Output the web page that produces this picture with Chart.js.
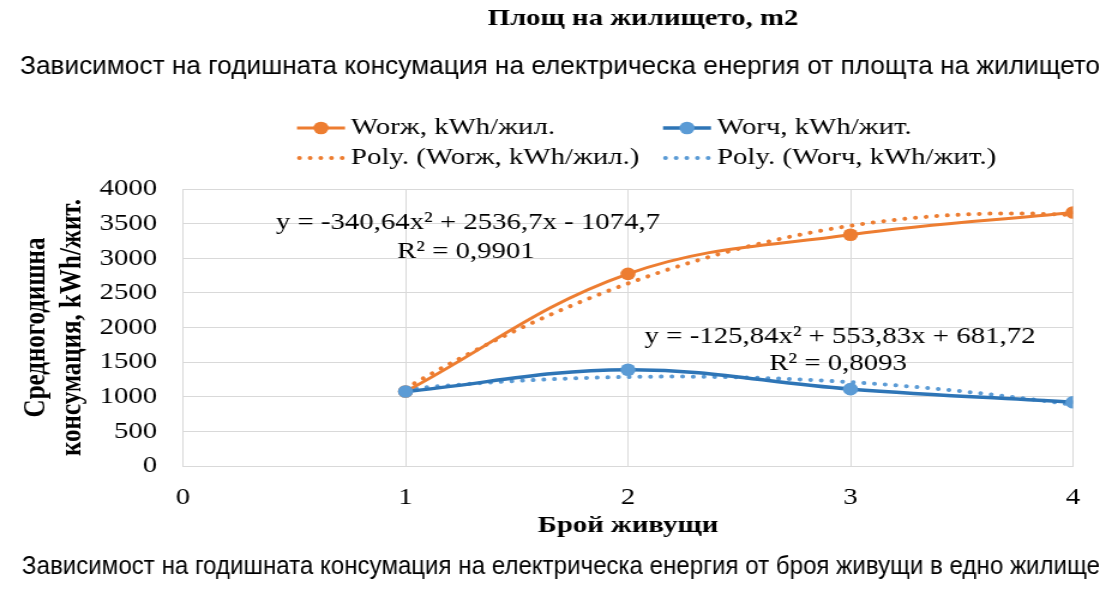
<!DOCTYPE html>
<html lang="bg">
<head>
<meta charset="utf-8">
<title>Годишна консумация на електрическа енергия</title>
<script src="https://cdn.jsdelivr.net/npm/chart.js@4/dist/chart.umd.min.js"></script>
<style>
  html, body { margin: 0; padding: 0; background: #fff; overflow: hidden; }
  #wrap { width: 1112px; height: 589px; position: relative; overflow: hidden; }
  /* the chart is laid out on a narrower canvas and widened horizontally */
  #chart { display: block; transform-origin: 0 0; }
</style>
</head>
<body>
<div id="wrap"><canvas id="chart"></canvas></div>
<script>
// Number of residents per dwelling
const residents = [1, 2, 3, 4];
// Average annual consumption, kWh
const worZh = [1075, 2775, 3340, 3660];   // Worж, kWh/жил.
const worCh = [1075, 1390, 1110, 920];    // Worч, kWh/жит.
// Quadratic trend coefficients [a, b, c] for y = a·x² + b·x + c
const polyZh = [-340.64, 2536.7, -1074.7];
const polyCh = [-125.84, 553.83, 681.72];
const r2Zh = '0,9901';
const r2Ch = '0,8093';
// Axis ticks
const xTicks = [0, 1, 2, 3, 4];
const yTicks = [0, 500, 1000, 1500, 2000, 2500, 3000, 3500, 4000];

const seriesNames = ['Worж, kWh/жил.', 'Worч, kWh/жит.', 'Poly. (Worж, kWh/жил.)', 'Poly. (Worч, kWh/жит.)'];
const titleTop = 'Площ на жилището, m2';
const subtitleTop = 'Зависимост на годишната консумация на електрическа енергия от площта на жилището';
const captionBottom = 'Зависимост на годишната консумация на електрическа енергия от броя живущи в едно жилище';
const xTitle = 'Брой живущи';
const yTitle = ['Средногодишна', 'консумация, kWh/жит.'];

const ORANGE = '#ED7D31';
const BLUE = '#2E75B6';
const LIGHTBLUE = '#5B9BD5';
const GRID = '#d9d9d9';
const SERIF = '"Liberation Serif", "Times New Roman", "DejaVu Serif", serif';
const SANS = '"Liberation Sans", Arial, sans-serif';

// Page size and horizontal widening of the chart canvas
const PAGE_W = 1112, PAGE_H = 589;
const STRETCH = 1.2;
const CW = Math.round(PAGE_W / STRETCH);
const SX = PAGE_W / CW;
const px = (x) => x / SX;   // page x -> canvas x

const canvas = document.getElementById('chart');
canvas.width = CW;
canvas.height = PAGE_H;
canvas.style.width = CW + 'px';
canvas.style.height = PAGE_H + 'px';
canvas.style.transform = 'scaleX(' + SX + ')';

// Trendline: the fitted polynomial evaluated along the data range
function trend(coef) {
  const pts = [];
  const x0 = residents[0], x1 = residents[residents.length - 1];
  const steps = 60;
  for (let i = 0; i <= steps; i++) {
    const x = x0 + (x1 - x0) * i / steps;
    pts.push({ x, y: coef[0] * x * x + coef[1] * x + coef[2] });
  }
  return pts;
}
function fmt(v) { return String(Math.abs(v)).replace('.', ','); }
function equation(coef) {
  const s = (v) => (v < 0 ? '- ' : '+ ') + fmt(v);
  return 'y = ' + (coef[0] < 0 ? '-' : '') + fmt(coef[0]) + 'x² ' + s(coef[1]) + 'x ' + s(coef[2]);
}

const datasets = [
  {
    label: seriesNames[0],
    data: residents.map((x, i) => ({ x, y: worZh[i] })),
    borderColor: ORANGE, backgroundColor: ORANGE,
    borderWidth: 3, pointRadius: 6.3, pointHoverRadius: 6.3,
    pointBackgroundColor: ORANGE, pointBorderWidth: 0,
    tension: 0.38, order: 1
  },
  {
    label: seriesNames[1],
    data: residents.map((x, i) => ({ x, y: worCh[i] })),
    borderColor: BLUE, backgroundColor: LIGHTBLUE,
    borderWidth: 3.5, pointRadius: 6.3, pointHoverRadius: 6.3,
    pointBackgroundColor: LIGHTBLUE, pointBorderWidth: 0,
    tension: 0.38, order: 0
  },
  {
    label: seriesNames[2],
    data: trend(polyZh),
    borderColor: ORANGE, borderWidth: 4,
    borderDash: [0.1, 8.8], borderCapStyle: 'round',
    pointRadius: 0, tension: 0, order: 3
  },
  {
    label: seriesNames[3],
    data: trend(polyCh),
    borderColor: LIGHTBLUE, borderWidth: 4,
    borderDash: [0.1, 8.8], borderCapStyle: 'round',
    pointRadius: 0, tension: 0, order: 2
  }
];

// Sans-serif text fitted to a given on-page width
function fittedText(ctx, text, cx, y, pageWidth) {
  const w = ctx.measureText(text).width;
  ctx.save();
  ctx.translate(px(cx), y);
  ctx.scale(px(pageWidth) / w, 1);
  ctx.fillText(text, 0, 0);
  ctx.restore();
}

// Headings, caption, trendline equations and the two-column legend
const decorations = {
  id: 'decorations',
  afterDraw(chart) {
    const ctx = chart.ctx;
    ctx.save();
    ctx.fillStyle = '#000';
    ctx.textBaseline = 'middle';
    ctx.textAlign = 'center';

    ctx.font = 'bold 24px ' + SERIF;
    ctx.fillText(titleTop, px(643), 19);
    ctx.font = '25px ' + SANS;
    fittedText(ctx, subtitleTop, 560, 67, 1080);
    fittedText(ctx, captionBottom, 561, 567, 1078);

    ctx.font = '24px ' + SERIF;
    ctx.fillText(equation(polyZh), px(468), 223);
    ctx.fillText('R² = ' + r2Zh, px(466), 252);
    ctx.fillText(equation(polyCh), px(840), 337);
    ctx.fillText('R² = ' + r2Ch, px(838), 364);

    // legend
    const cols = [px(297), px(663)], rows = [128, 158], lineLen = px(48);
    chart.data.datasets.forEach((ds, i) => {
      const x0 = cols[i % 2], y = rows[Math.floor(i / 2)];
      ctx.save();
      ctx.strokeStyle = ds.borderColor;
      ctx.lineWidth = ds.borderWidth;
      ctx.lineCap = ds.borderCapStyle || 'butt';
      ctx.setLineDash(ds.borderDash || []);
      ctx.beginPath();
      ctx.moveTo(x0 + (ds.borderDash ? 2 : 0), y);
      ctx.lineTo(x0 + lineLen, y);
      ctx.stroke();
      if (ds.pointRadius) {
        ctx.fillStyle = ds.pointBackgroundColor;
        ctx.beginPath();
        ctx.arc(x0 + lineLen / 2, y, ds.pointRadius, 0, Math.PI * 2);
        ctx.fill();
      }
      ctx.restore();
      ctx.textAlign = 'left';
      ctx.fillText(ds.label, x0 + lineLen + 5, y);
    });
    ctx.restore();
  }
};

new Chart(canvas, {
  type: 'line',
  data: { datasets },
  options: {
    responsive: false,
    animation: false,
    events: [],
    layout: { padding: { top: 189, right: px(PAGE_W - 1073), bottom: 47, left: 0 } },
    plugins: { legend: { display: false }, title: { display: false }, tooltip: { enabled: false } },
    scales: {
      x: {
        type: 'linear', min: xTicks[0], max: xTicks[xTicks.length - 1],
        afterBuildTicks(scale) { scale.ticks = xTicks.map(v => ({ value: v })); },
        afterFit(scale) { scale.height = 76; },
        ticks: { color: '#000', font: { family: SERIF, size: 24 }, padding: 17, callback: (v) => String(v) },
        grid: { color: GRID, drawTicks: false, lineWidth: 1 },
        border: { color: GRID },
        title: { display: true, text: xTitle, color: '#000',
                 font: { family: SERIF, size: 24, weight: 'bold' }, padding: { top: 0, bottom: 2 } }
      },
      y: {
        min: yTicks[0], max: yTicks[yTicks.length - 1],
        afterBuildTicks(scale) { scale.ticks = yTicks.map(v => ({ value: v })); },
        afterFit(scale) { scale.width = px(183); },
        ticks: { color: '#000', font: { family: SERIF, size: 24 }, padding: px(26), callback: (v) => String(v) },
        grid: { color: GRID, drawTicks: false, lineWidth: 1 },
        border: { color: GRID },
        title: { display: true, text: yTitle, color: '#000',
                 font: { family: SERIF, size: 25, weight: 'bold', lineHeight: px(36) / 25 },
                 padding: { top: px(37) - px(18), bottom: 0 } }
      }
    }
  },
  plugins: [decorations]
});
</script>
</body>
</html>
